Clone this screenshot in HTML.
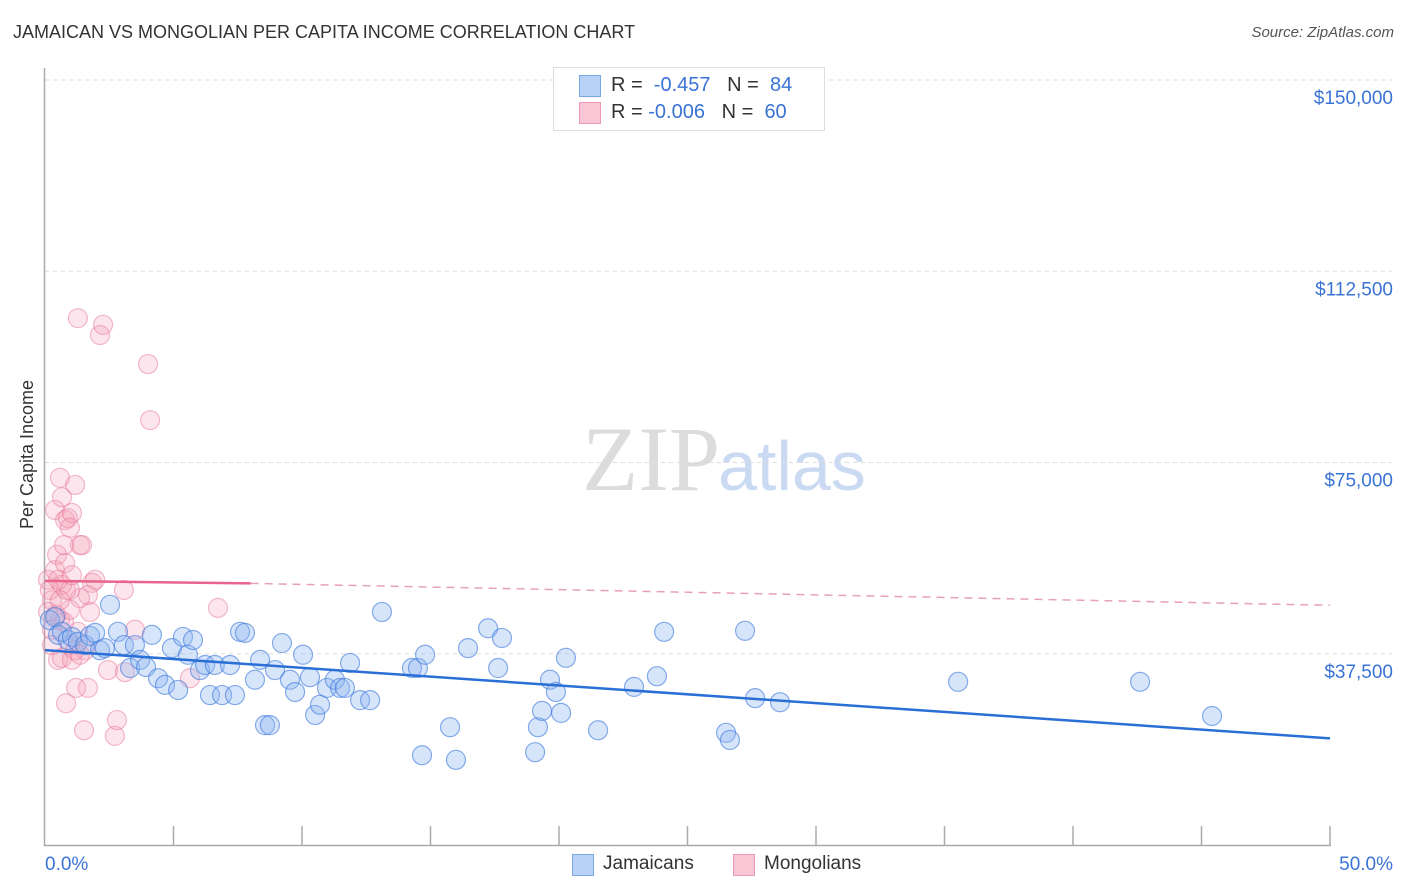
<!DOCTYPE html>
<html><head><meta charset="utf-8">
<style>
body{margin:0;background:#fff;font-family:"Liberation Sans",sans-serif;}
#wrap{position:relative;width:1406px;height:892px;overflow:hidden;}
.t{position:absolute;white-space:nowrap;}
</style></head>
<body>
<div id="wrap">
<div class="t" style="left:13px;top:22px;font-size:18px;color:#333;">JAMAICAN VS MONGOLIAN PER CAPITA INCOME CORRELATION CHART</div>
<div class="t" style="right:12px;top:24px;font-size:15px;color:#555;font-style:italic;">Source: ZipAtlas.com</div>
<div class="t" style="left:-47px;top:444px;font-size:18px;color:#333;transform:rotate(-90deg);">Per Capita Income</div>
<svg id="svg" width="1406" height="892" style="position:absolute;left:0;top:0">
<text x="720" y="490" text-anchor="end" font-family="Liberation Serif,serif" font-size="92" fill="#dcdcdc">ZIP</text>
<text x="718" y="490" font-family="Liberation Sans,sans-serif" font-size="70" fill="#c9daf2">atlas</text>
</svg>
<div style="position:absolute;left:553px;top:67px;width:270px;height:62px;border:1px solid #ddd;background:#fff;"></div>
<div style="position:absolute;left:579px;top:75px;width:20px;height:20px;background:#b8d2f5;border:1px solid #7aa7e6;"></div>
<div style="position:absolute;left:579px;top:102px;width:20px;height:20px;background:#f9c6d5;border:1px solid #ee9ab4;"></div>
<div class="t" style="left:611px;top:74px;font-size:20px;color:#333;">R = &nbsp;<span style="color:#3a73d6">-0.457</span> &nbsp; N = &nbsp;<span style="color:#3a73d6">84</span></div>
<div class="t" style="left:611px;top:101px;font-size:20px;color:#333;">R = <span style="color:#3a73d6">-0.006</span> &nbsp; N = &nbsp;<span style="color:#3a73d6">60</span></div>
<div style="position:absolute;left:572px;top:854px;width:20px;height:20px;background:#b8d2f5;border:1px solid #7aa7e6;"></div>
<div class="t" style="left:603px;top:853px;font-size:19px;color:#333;">Jamaicans</div>
<div style="position:absolute;left:733px;top:854px;width:20px;height:20px;background:#f9c6d5;border:1px solid #ee9ab4;"></div>
<div class="t" style="left:764px;top:853px;font-size:19px;color:#333;">Mongolians</div>
</div>
<script>
const blueX=[0.19,0.39,0.51,0.66,0.89,1.05,1.28,1.56,1.75,1.95,2.14,2.33,2.53,2.84,3.07,3.31,3.50,3.70,3.93,4.16,4.40,4.67,4.94,5.18,5.37,5.56,5.76,6.03,6.23,6.42,6.61,6.89,7.20,7.39,7.59,7.78,8.17,8.37,8.56,8.75,8.95,9.22,9.53,9.73,10.04,10.31,10.51,10.70,10.97,11.28,11.48,11.67,11.87,12.26,12.65,13.11,14.28,14.51,14.67,14.79,15.76,15.99,16.46,17.24,17.63,17.78,19.07,19.18,19.34,19.65,19.88,20.08,20.27,21.52,22.92,23.81,24.09,26.50,26.65,27.24,27.63,28.60,35.53,42.61,45.41];
const blueY=[44.1,44.7,41.2,41.8,40.2,40.8,39.8,39.2,41.0,41.6,38.2,38.6,47.1,41.8,39.2,34.7,39.2,36.3,34.9,41.2,32.7,31.4,38.6,30.4,40.8,37.3,40.2,34.3,35.3,29.4,35.3,29.4,35.3,29.4,41.8,41.6,32.4,36.3,23.5,23.5,34.3,39.6,32.4,30.0,37.3,32.9,25.5,27.5,30.8,32.4,30.8,30.8,35.7,28.4,28.4,45.7,34.7,34.7,17.6,37.3,23.1,16.7,38.6,42.5,34.7,40.6,18.2,23.1,26.3,32.4,30.0,25.9,36.7,22.5,31.0,33.1,41.8,22.0,20.6,42.0,28.8,28.0,32.0,32.0,25.3];
const pinkX=[0.12,0.19,0.27,0.39,0.47,0.58,0.74,0.39,0.58,0.66,0.78,0.89,1.05,0.97,1.17,1.36,1.44,1.28,2.14,2.26,4.01,4.09,0.51,0.66,0.82,1.05,1.21,1.67,1.52,2.72,2.80,2.45,3.11,3.50,3.07,1.83,1.67,1.36,0.97,0.82,0.66,0.51,0.27,0.12,0.43,0.97,1.17,1.56,5.64,6.73,0.78,0.97,0.27,0.58,1.28,1.75,1.95,0.74,1.05,1.36];
const pinkY=[52.0,50.0,48.0,53.9,56.9,44.1,43.7,65.7,72.0,68.2,63.7,64.1,65.1,62.2,70.6,58.8,58.8,103.3,100.0,102.0,94.3,83.3,36.3,36.7,27.8,36.3,30.8,30.8,22.5,21.4,24.5,34.3,33.9,42.2,50.0,51.4,49.0,48.4,46.1,50.0,51.0,52.0,42.2,45.7,45.1,39.2,38.2,38.2,32.7,46.5,55.3,50.0,39.2,48.0,41.8,45.7,52.0,58.8,52.9,37.3];
const blueTrendX=[0,50], blueTrendY=[38.2,20.9];
const pinkTrendX=[0,8,50], pinkTrendY=[51.8,51.3,47.0];
const yTicks=[37.5,75,112.5,150];
const yTickLabels=["$37,500","$75,000","$112,500","$150,000"];
const xTicks=[0,5,10,15,20,25,30,35,40,45,50];
const xs=v=>45+v*25.7;
const ys=v=>845-v*191.25/37.5;
const NS="http://www.w3.org/2000/svg";
const svg=document.getElementById('svg');
function mk(tag,attrs){const e=document.createElementNS(NS,tag);for(const k in attrs)e.setAttribute(k,attrs[k]);svg.appendChild(e);return e;}
yTicks.forEach((t,i)=>{
 const g=mk('line',{x1:45,x2:1392,y1:ys(t),y2:ys(t),stroke:'#ddd','stroke-dasharray':'4,4'});
 
 
 const tx=mk('text',{x:1393,y:ys(t)+24,'text-anchor':'end','font-size':19,fill:'#3a73d6','font-family':'Liberation Sans,sans-serif'});
 tx.textContent=yTickLabels[i];
 
 
});
const ax=mk('path',{d:'M44.5,68 V845.5 H1331',stroke:'#aaa',fill:'none','stroke-width':1.5});


xTicks.slice(1).forEach(t=>{
 const l=mk('line',{x1:xs(t),x2:xs(t),y1:826,y2:845,stroke:'#aaa','stroke-width':1.5});
 
 
});
const x0=mk('text',{x:45,y:870,'font-size':19,fill:'#3a73d6','font-family':'Liberation Sans,sans-serif'});x0.textContent='0.0%';


const x1=mk('text',{x:1393,y:870,'text-anchor':'end','font-size':19,fill:'#3a73d6','font-family':'Liberation Sans,sans-serif'});x1.textContent='50.0%';


pinkX.forEach((x,i)=>{
 const c=mk('circle',{cx:xs(x),cy:ys(pinkY[i]),r:9.5,fill:'rgba(244,160,186,0.28)',stroke:'rgba(232,120,156,0.5)','stroke-width':1.2});
 
 
});
blueX.forEach((x,i)=>{
 const c=mk('circle',{cx:xs(x),cy:ys(blueY[i]),r:9.5,fill:'rgba(140,180,240,0.35)',stroke:'rgba(60,120,220,0.6)','stroke-width':1.2});
 
 
});
const bl=mk('line',{x1:xs(blueTrendX[0]),y1:ys(blueTrendY[0]),x2:xs(blueTrendX[1]),y2:ys(blueTrendY[1]),stroke:'#2a6fd6','stroke-width':2.5});


const pl=mk('line',{x1:xs(pinkTrendX[0]),y1:ys(pinkTrendY[0]),x2:xs(pinkTrendX[1]),y2:ys(pinkTrendY[1]),stroke:'#e8648c','stroke-width':2.5});


const pd=mk('line',{x1:xs(pinkTrendX[1]),y1:ys(pinkTrendY[1]),x2:xs(pinkTrendX[2]),y2:ys(pinkTrendY[2]),stroke:'#e8a0b8','stroke-width':1.5,'stroke-dasharray':'8,6'});


</script>
</body></html>
